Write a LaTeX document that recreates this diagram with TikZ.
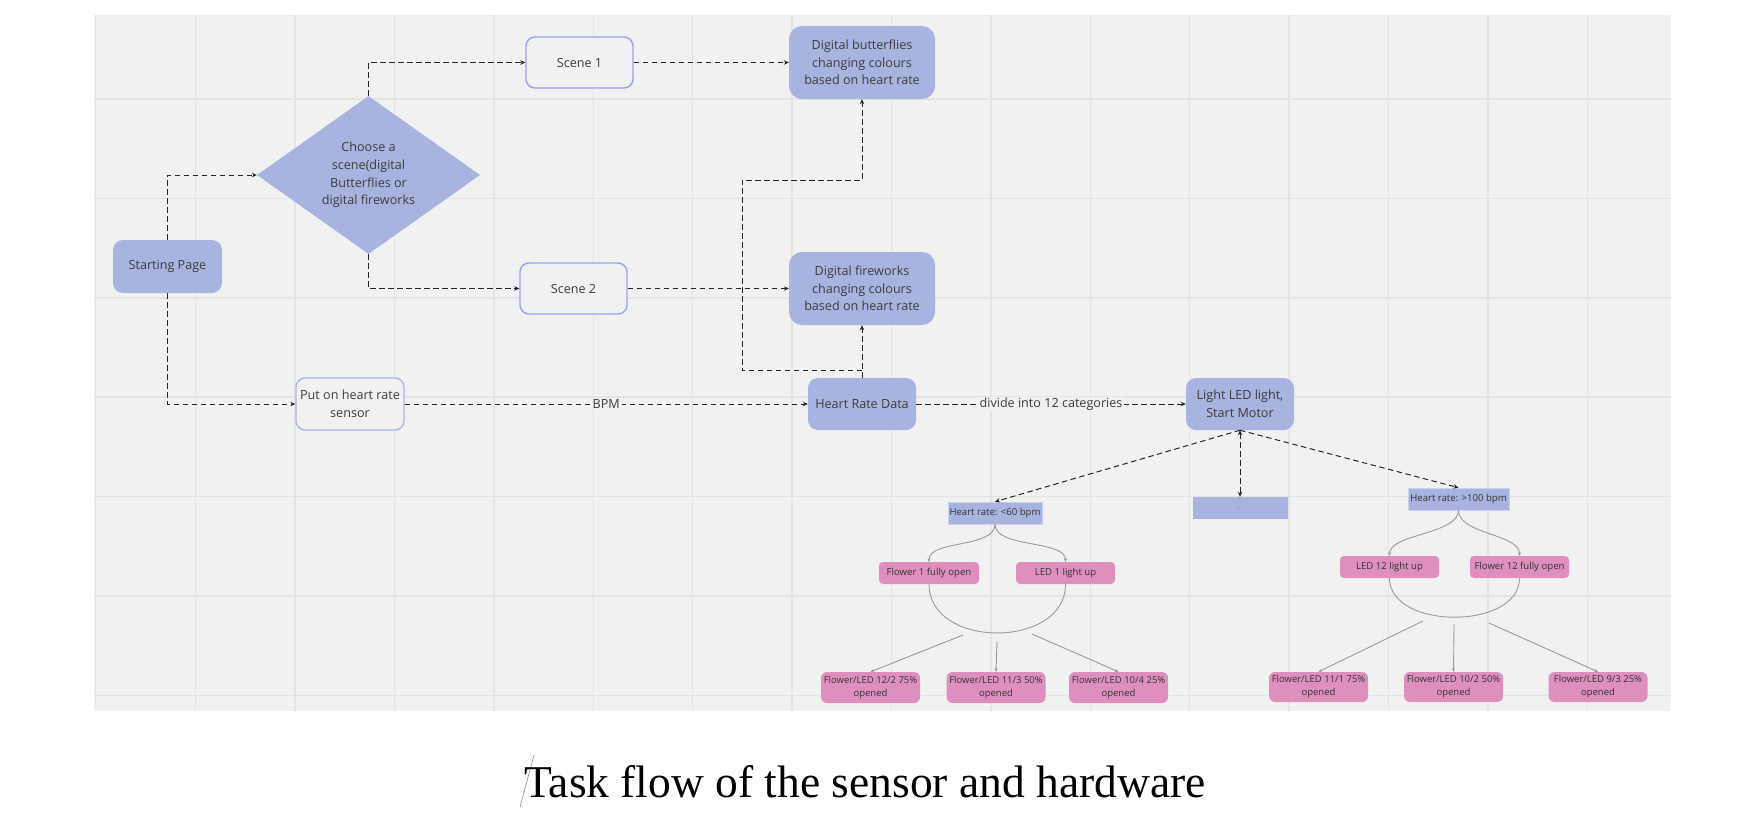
\documentclass[tikz,border=0pt]{standalone}
\usepackage{fontspec}
\setmainfont{Open Sans}
\newfontfamily\titlefont{Liberation Serif}
\usetikzlibrary{shapes.geometric,arrows.meta}
\definecolor{bgc}{HTML}{F1F1F1}
\definecolor{gridc}{HTML}{E4E4E4}
\definecolor{bluef}{HTML}{A8B4DF}
\definecolor{pinkf}{HTML}{DE8FBE}
\definecolor{scb}{HTML}{9AA0F2}
\definecolor{snb}{HTML}{AAB6E6}
\definecolor{txt}{HTML}{3C3C3C}
\definecolor{curvec}{HTML}{9A9A9A}
\begin{document}
\begin{tikzpicture}[x=1pt,y=-1pt,
  every node/.style={font=\fontsize{12.6}{17.7}\selectfont, text=txt, align=center, inner sep=0pt},
  bluebox/.style={fill=bluef, rounded corners=10pt},
  bigblue/.style={fill=bluef, rounded corners=13pt, minimum width=146pt, minimum height=73pt},
  scenebox/.style={fill=bgc, draw=scb, line width=1.4pt, rounded corners=9pt, minimum width=107pt, minimum height=51pt},
  smallblue/.style={fill=bluef, draw=bluef!60!white, line width=0.6pt, font=\fontsize{9.6}{13}\selectfont, text=black!80, minimum height=22pt},
  pinkbox/.style={fill=pinkf, rounded corners=4pt, font=\fontsize{9.6}{13}\selectfont, text=black!80, minimum width=99pt, minimum height=22pt},
  pinkbig/.style={fill=pinkf, rounded corners=6pt, font=\fontsize{9.5}{13}\selectfont, text=black!80, minimum width=99pt, minimum height=31pt},
  dashedarrow/.style={draw=black!85, line width=1pt, dash pattern=on 5.5pt off 3.5pt, -{Stealth[length=5pt,width=4.5pt]}},
  gcurve/.style={draw=curvec, line width=0.9pt},
  garrow/.style={draw=curvec, line width=0.9pt, -{Stealth[length=3.5pt,width=3pt,fill=black!70]}},
  elabel/.style={fill=bgc, inner xsep=2pt, inner ysep=1pt}
]
\useasboundingbox (0,0) rectangle (1755,825);
\fill[white] (0,0) rectangle (1755,825);
\fill[bgc] (94,15) rectangle (1671,711);
% grid
\draw[gridc, line width=1.5pt] (95.5,15) -- (95.5,711);
\foreach \i in {0,...,14} {
  \draw[gridc, line width=1.5pt] ({195.7+99.4*\i},15) -- ({195.7+99.4*\i},711);
}
\foreach \j in {0,...,6} {
  \draw[gridc, line width=1.5pt] (94,{99+99.4*\j}) -- (1671,{99+99.4*\j});
}

% nodes
\node[bluebox, minimum width=109pt, minimum height=53pt] (start) at (167.5,266.5) {Starting Page};
\node[diamond, fill=bluef, aspect=1.41, minimum width=223pt, minimum height=158pt] (choose) at (368.5,175) {Choose a\\scene(digital\\Butterflies or\\digital fireworks};
\node[scenebox] (s1) at (579.5,62.5) {Scene 1};
\node[scenebox] (s2) at (573.5,288.5) {Scene 2};
\node[bigblue] (bf) at (862,62.5) {Digital butterflies\\changing colours\\based on heart rate};
\node[bigblue] (fw) at (862,288.5) {Digital fireworks\\changing colours\\based on heart rate};
\node[fill=bgc, draw=snb, line width=1.4pt, rounded corners=9pt, minimum width=108pt, minimum height=52pt] (sensor) at (350,404) {Put on heart rate\\sensor};
\node[bluebox, minimum width=108pt, minimum height=52pt] (hrd) at (862,404) {Heart Rate Data};
\node[bluebox, minimum width=108pt, minimum height=52pt] (led) at (1240,404) {Light LED light,\\Start Motor};
\node[fill=bluef, minimum width=95pt, minimum height=22pt, font=\fontsize{8}{9}\selectfont, text=black!45] (dots) at (1240,508) {...};
\node[smallblue, minimum width=94pt] (hr60) at (995,513) {Heart rate: <60 bpm};
\node[smallblue, minimum width=101pt] (hr100) at (1458.5,499) {Heart rate: >100 bpm};
\node[pinkbox, minimum width=100pt] (f1) at (929,573) {Flower 1 fully open};
\node[pinkbox] (l1) at (1065.5,573) {LED 1 light up};
\node[pinkbox] (l12) at (1389.5,567) {LED 12 light up};
\node[pinkbox] (f12) at (1519.5,567) {Flower 12 fully open};
\node[pinkbig] (b1) at (870.5,687.5) {Flower/LED 12/2 75\%\\opened};
\node[pinkbig] (b2) at (996,687.5) {Flower/LED 11/3 50\%\\opened};
\node[pinkbig] (b3) at (1118.5,687.5) {Flower/LED 10/4 25\%\\opened};
\node[pinkbig, minimum height=30pt] (c1) at (1318.5,687) {Flower/LED 11/1 75\%\\opened};
\node[pinkbig, minimum height=30pt] (c2) at (1453.5,687) {Flower/LED 10/2 50\%\\opened};
\node[pinkbig, minimum height=30pt] (c3) at (1598,687) {Flower/LED 9/3 25\%\\opened};

% dashed connectors
\draw[dashedarrow] (start.north) |- (choose.west);
\draw[dashedarrow] (choose.north) |- (s1.west);
\draw[dashedarrow] (choose.south) |- (s2.west);
\draw[dashedarrow] (s1.east) -- (bf.west);
\draw[dashedarrow] (s2.east) -- (fw.west);
\draw[dashedarrow] (start.south) |- (sensor.west);
\draw[dashedarrow] (sensor.east) -- node[elabel] {BPM} (hrd.west);
\draw[dashedarrow] (hrd.east) -- node[elabel] {divide into 12 categories} (led.west);
\draw[dashedarrow] (hrd.north) -- (fw.south);
\coordinate (j1) at (742,180);
\draw[dashedarrow] (hrd.north) ++(0,-7) -| (j1) -| (bf.south);
\draw[dashedarrow] (led.south) -- (hr60.north);
\draw[dashedarrow] (led.south) -- (hr100.north);
\draw[dashedarrow, {Stealth[length=5pt,width=4.5pt]}-{Stealth[length=5pt,width=4.5pt]}] (led.south) -- (dots.north);

% gray curves, left group
\draw[garrow] (hr60.south) .. controls +(0,24) and +(0,-22) .. (f1.north);
\draw[garrow] (hr60.south) .. controls +(0,24) and +(0,-22) .. (l1.north);
\draw[gcurve] (f1.south) .. controls +(0,65) and +(0,65) .. (l1.south);
\coordinate (ua) at (963,635);
\coordinate (ub) at (997,641);
\coordinate (uc) at (1032,634);
\draw[garrow] (ua) -- (b1.north);
\draw[garrow] (ub) -- (b2.north);
\draw[garrow] (uc) -- (b3.north);

% gray curves, right group
\draw[garrow] (hr100.south) .. controls +(0,24) and +(0,-22) .. (l12.north);
\draw[garrow] (hr100.south) .. controls +(0,24) and +(0,-22) .. (f12.north);
\draw[gcurve] (l12.south) .. controls +(0,52) and +(0,52) .. (f12.south);
\coordinate (va) at (1423,621);
\coordinate (vb) at (1454,624);
\coordinate (vc) at (1489,623);
\draw[garrow] (va) -- (c1.north);
\draw[garrow] (vb) -- (c2.north);
\draw[garrow] (vc) -- (c3.north);

% title
\draw[black!45, line width=0.6pt] (534,755) -- (520,807);
\node[font=\titlefont\fontsize{45.5}{54}\selectfont, text=black, anchor=base] (title) at (865,797) {Task flow of the sensor and hardware};
\end{tikzpicture}
\end{document}
